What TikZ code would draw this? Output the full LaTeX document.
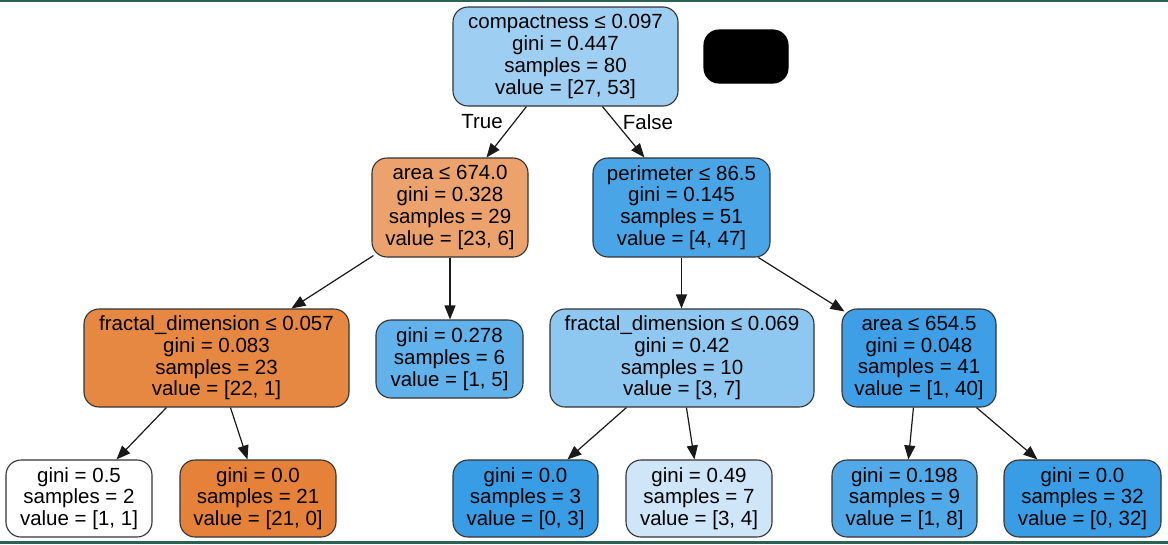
\documentclass[tikz,border=0pt]{standalone}
\usepackage{fontspec}
\setmainfont{Liberation Sans}
\usetikzlibrary{arrows.meta,calc}
\definecolor{band}{RGB}{44,98,82}
\definecolor{cRoot}{RGB}{158,207,242}
\definecolor{cArea}{RGB}{236,162,109}
\definecolor{cPerim}{RGB}{74,165,231}
\definecolor{cFracA}{RGB}{230,135,66}
\definecolor{cGa}{RGB}{97,177,234}
\definecolor{cFracB}{RGB}{142,199,240}
\definecolor{cAreaB}{RGB}{62,159,230}
\definecolor{cOrange}{RGB}{229,129,57}
\definecolor{cBlue}{RGB}{57,157,229}
\definecolor{cLight}{RGB}{206,230,248}
\definecolor{cLb}{RGB}{82,169,232}
\begin{document}
\begin{tikzpicture}[x=1pt,y=-1pt,
  box/.style={draw=black!80, line width=1.1pt, rounded corners=15pt, inner sep=0pt,
    align=center, font=\fontsize{20.5}{21.7}\selectfont},
  edge/.style={draw=black!90, line width=1.2pt, -{Triangle[length=14pt,width=11pt]}},
  lbl/.style={font=\fontsize{20.5}{21.7}\selectfont, inner sep=0pt}]
\useasboundingbox (0,0) rectangle (1168,544);
\fill[band] (0,0) rectangle (1168,2.2);
\fill[band] (0,541) rectangle (1168,544);

% level 0
\node[box, fill=cRoot, minimum width=225pt, minimum height=99pt] (root) at (565.5,56.5)
  {compactness ≤ 0.097\\gini = 0.447\\samples = 80\\value = [27, 53]};
\node[box, fill=black, draw=black, minimum width=84pt, minimum height=53pt] (legend) at (746,56.5) {};

% level 1
\node[box, fill=cArea, minimum width=156pt, minimum height=99pt] (area) at (450,207.5)
  {area ≤ 674.0\\gini = 0.328\\samples = 29\\value = [23, 6]};
\node[box, fill=cPerim, minimum width=177pt, minimum height=99pt] (perim) at (681.5,207.5)
  {perimeter ≤ 86.5\\gini = 0.145\\samples = 51\\value = [4, 47]};

% level 2
\node[box, fill=cFracA, minimum width=265pt, minimum height=98pt] (fracA) at (216.5,358)
  {fractal\_dimension ≤ 0.057\\gini = 0.083\\samples = 23\\value = [22, 1]};
\node[box, fill=cGa, minimum width=147pt, minimum height=78pt] (gA) at (449.5,359)
  {gini = 0.278\\samples = 6\\value = [1, 5]};
\node[box, fill=cFracB, minimum width=264pt, minimum height=98pt] (fracB) at (682,358)
  {fractal\_dimension ≤ 0.069\\gini = 0.42\\samples = 10\\value = [3, 7]};
\node[box, fill=cAreaB, minimum width=154pt, minimum height=98pt] (areaB) at (919,358)
  {area ≤ 654.5\\gini = 0.048\\samples = 41\\value = [1, 40]};

% level 3
\node[box, fill=white, minimum width=146pt, minimum height=77pt] (l1) at (79,498.5)
  {gini = 0.5\\samples = 2\\value = [1, 1]};
\node[box, fill=cOrange, minimum width=156pt, minimum height=77pt] (l2) at (258,498.5)
  {gini = 0.0\\samples = 21\\value = [21, 0]};
\node[box, fill=cBlue, minimum width=145pt, minimum height=77pt] (l3) at (525.5,498.5)
  {gini = 0.0\\samples = 3\\value = [0, 3]};
\node[box, fill=cLight, minimum width=146pt, minimum height=77pt] (l4) at (699,498.5)
  {gini = 0.49\\samples = 7\\value = [3, 4]};
\node[box, fill=cLb, minimum width=145pt, minimum height=77pt] (l5) at (904.5,498.5)
  {gini = 0.198\\samples = 9\\value = [1, 8]};
\node[box, fill=cBlue, minimum width=157pt, minimum height=77pt] (l6) at (1082.5,498.5)
  {gini = 0.0\\samples = 32\\value = [0, 32]};

% edges
\draw[edge] ($(root.south west)+(74,0)$) -- ($(area.north west)+(115,0)$);
\draw[edge] ($(root.south west)+(150,0)$) -- ($(perim.north west)+(52,0)$);
\node[lbl] (tlab) at (482,122) {True};
\node[lbl] (flab) at (648,122) {False};

\draw[edge] ($(area.south west)+(2,-2)$) -- ($(fracA.north west)+(208,0)$);
\draw[edge] (area.south) -- (area.south |- gA.north);
\draw[edge] (perim.south) -- (perim.south |- fracB.north);
\draw[edge] ($(perim.south west)+(166,0)$) -- ($(areaB.north west)+(3,3)$);

\draw[edge] ($(fracA.south west)+(83,0)$) -- ($(l1.north west)+(111,0)$);
\draw[edge] ($(fracA.south west)+(147,0)$) -- ($(l2.north west)+(68,0)$);
\draw[edge] ($(fracB.south west)+(77,0)$) -- ($(l3.north west)+(115,0)$);
\draw[edge] ($(fracB.south west)+(137,0)$) -- ($(l4.north west)+(69,0)$);
\draw[edge] ($(areaB.south west)+(72,0)$) -- ($(l5.north west)+(77,0)$);
\draw[edge] ($(areaB.south west)+(135,0)$) -- ($(l6.north west)+(34,0)$);
\end{tikzpicture}
\end{document}
